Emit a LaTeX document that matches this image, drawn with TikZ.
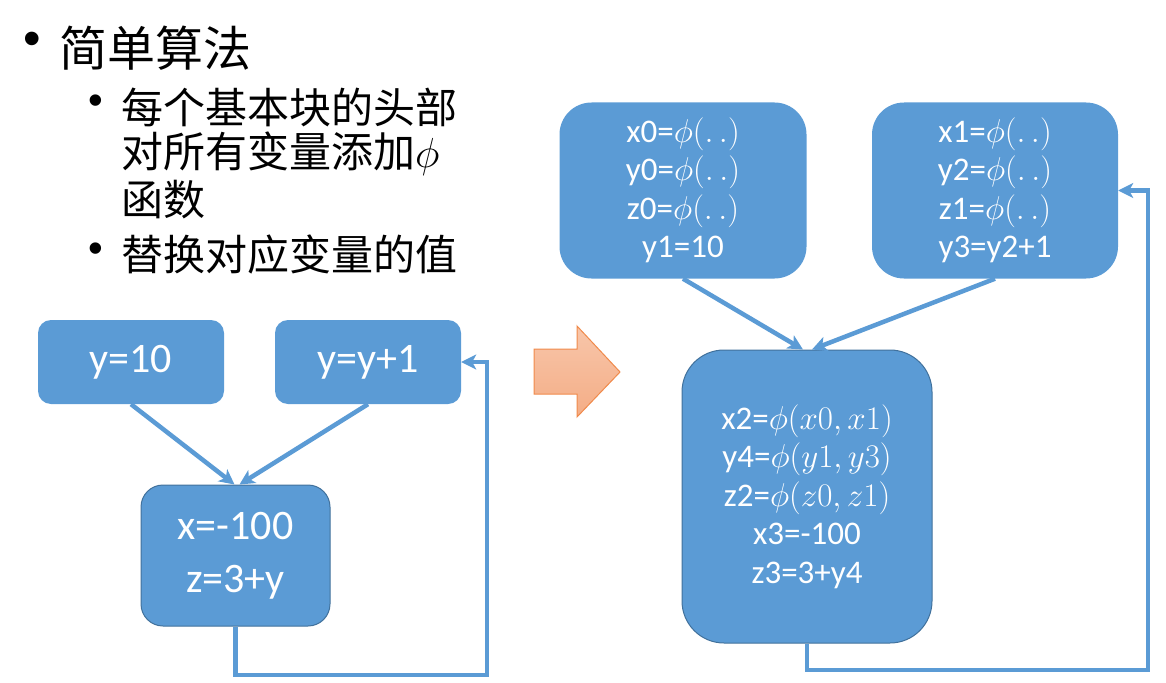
\RequirePackage{fix-cm}
\documentclass[tikz,border=0pt]{standalone}
\usepackage[no-math]{fontspec}
\setmainfont{Carlito}
\newfontfamily\cjk{Noto Sans CJK SC}
\newfontfamily\bulfont{Liberation Sans}
\usetikzlibrary{arrows.meta}
\definecolor{boxblue}{HTML}{5B9BD5}
\definecolor{boxedge}{HTML}{41719C}
\definecolor{orfilltop}{HTML}{F8C6AA}
\definecolor{orfillbot}{HTML}{F4AD86}
\definecolor{oredge}{HTML}{F08A4B}
\newcommand{\phd}{$\phi(.\,.)$}
\begin{document}
\begin{tikzpicture}[x=1pt,y=-1pt,
  blk/.style={fill=boxblue, text=white, inner sep=0pt, align=center},
  edged/.style={draw=boxedge, line width=1pt},
  conn/.style={draw=boxblue, line width=4.5pt, -{Stealth[length=15pt,width=15pt,inset=4pt]}},
  bigtxt/.style={font=\fontsize{42}{53}\selectfont},
  smalltxt/.style={font=\fontsize{33}{38.5}\selectfont},
  cjktitle/.style={anchor=west, inner sep=0pt, font=\cjk\fontsize{48}{56}\selectfont},
  cjksub/.style={anchor=west, inner sep=0pt, font=\cjk\fontsize{42}{50}\selectfont},
  bullet/.style={inner sep=0pt, font=\bulfont}
]
\useasboundingbox (0,0) rectangle (1166,682);

% bullets and text
\node[bullet, font=\bulfont\fontsize{50}{50}\selectfont] (b1) at (32,44) {•};
\node[cjktitle] (t1) at (59,48) {简单算法};
\node[bullet, font=\bulfont\fontsize{42}{42}\selectfont] (b2) at (96,105) {•};
\node[cjksub] (t2) at (121,107) {每个基本块的头部};
\node[cjksub] (t3) at (121,154) {对所有变量添加$\phi$};
\node[cjksub] (t4) at (121,200) {函数};
\node[bullet, font=\bulfont\fontsize{42}{42}\selectfont] (b3) at (96,253) {•};
\node[cjksub] (t5) at (121,254) {替换对应变量的值};

% left diagram
\node[blk, bigtxt, rounded corners=13pt, minimum width=186pt, minimum height=84pt] (a) at (131,362) {y=10};
\node[blk, bigtxt, rounded corners=13pt, minimum width=186pt, minimum height=84pt] (b) at (368,362) {y=y+1};
\node[blk, edged, bigtxt, rounded corners=22pt, minimum width=189pt, minimum height=141pt] (c) at (235.5,555.5) {x=-100\\z=3+y};

\draw[conn] (a.south) -- ([xshift=-1pt]c.north);
\draw[conn] (b.south) -- ([xshift=4pt]c.north);
\coordinate (l1) at (487,675);
\draw[conn] (c.south) |- (l1) |- (b.east);

% transform arrow
\draw[oredge, line width=1pt, top color=orfilltop, bottom color=orfillbot]
  (534,349) -- (577,349) -- (577,326) -- (620,372) -- (577,417) -- (577,394) -- (534,394) -- cycle;

% right diagram
\node[blk, smalltxt, rounded corners=32pt, minimum width=247pt, minimum height=176pt] (p) at (683,190.5)
  {x0=\phd\\y0=\phd\\z0=\phd\\y1=10};
\node[blk, smalltxt, rounded corners=32pt, minimum width=246pt, minimum height=176pt] (q) at (995,190.5)
  {x1=\phd\\y2=\phd\\z1=\phd\\y3=y2+1};
\node[blk, edged, smalltxt, rounded corners=42pt, minimum width=250pt, minimum height=293pt] (r) at (807,496.5)
  {x2=$\phi(x0,x1)$\\y4=$\phi(y1,y3)$\\z2=$\phi(z0,z1)$\\x3=-100\\z3=3+y4};

\draw[conn] (p.south) -- ([xshift=-4pt]r.north);
\draw[conn] (q.south) -- ([xshift=5pt]r.north);
\coordinate (l2) at (1148,670);
\draw[conn] (r.south) |- (l2) |- (q.east);
\end{tikzpicture}
\end{document}
